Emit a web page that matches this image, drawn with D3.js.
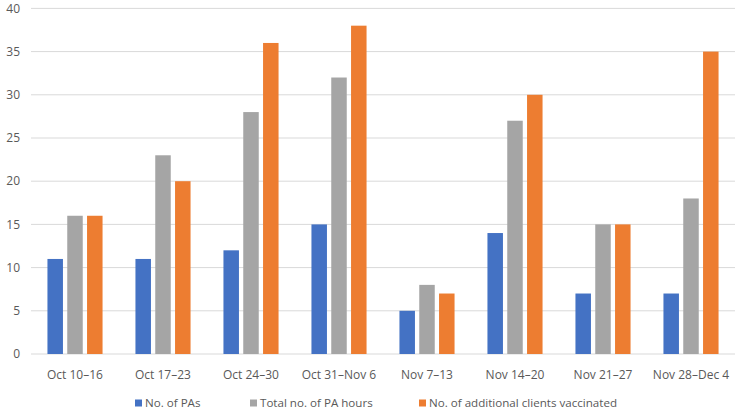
<!DOCTYPE html>
<html><head><meta charset="utf-8">
<script src="https://cdn.jsdelivr.net/npm/d3@7"></script>
<style>body{margin:0;background:#fff}text{font-family:"Open Sans",sans-serif}</style>
</head><body><svg id="c" width="740" height="414"></svg>
<script>
const categories = ["Oct 10–16","Oct 17–23","Oct 24–30","Oct 31–Nov 6","Nov 7–13","Nov 14–20","Nov 21–27","Nov 28–Dec 4"];
const seriesNames = ["No. of PAs","Total no. of PA hours","No. of additional clients vaccinated"];
const paCount = [11,11,12,15,5,14,7,7];
const paHours = [16,23,28,32,8,27,15,18];
const clientsVaccinated = [16,20,36,38,7,30,15,35];
const yTicks = [0,5,10,15,20,25,30,35,40];
const colors = ["#4472C4","#A5A5A5","#ED7D31"];
const series = [paCount, paHours, clientsVaccinated];

const svg = d3.select("#c");
const mLeft = 31, mRight = 735, mTop = 8.4, mBottom = 354;
const x = d3.scaleBand().domain(categories).range([mLeft,mRight]).paddingInner(0).paddingOuter(0);
const y = d3.scaleLinear().domain([0,40]).range([mBottom,mTop]);

// gridlines
svg.append("g").selectAll("line").data(yTicks).join("line")
  .attr("x1",mLeft).attr("x2",mRight)
  .attr("y1",d=>y(d)).attr("y2",d=>y(d))
  .attr("stroke","#D9D9D9").attr("stroke-width",1);

// y labels
svg.append("g").selectAll("text").data(yTicks).join("text")
  .attr("x",20).attr("y",d=>y(d)).attr("dy","0.35em")
  .attr("text-anchor","end").attr("font-size",12).attr("fill","#595959")
  .text(d=>d);

// bars
const barW = 15.5, gap = 4.3;
const groupW = 3*barW+2*gap;
const inner = d3.scaleBand().domain([0,1,2]).range([0,groupW]).paddingInner(gap/(barW+gap)).paddingOuter(0);
const g = svg.append("g");
series.forEach((vals,si)=>{
  g.append("g").selectAll("rect").data(vals).join("rect")
    .attr("x",(d,i)=>x(categories[i]) + (x.bandwidth()-groupW)/2 + inner(si))
    .attr("width",inner.bandwidth())
    .attr("y",d=>y(d)).attr("height",d=>y(0)-y(d))
    .attr("fill",colors[si]);
});

// x labels
svg.append("g").selectAll("text").data(categories).join("text")
  .attr("x",d=>x(d)+x.bandwidth()/2).attr("y",375).attr("dy","0.35em")
  .attr("text-anchor","middle").attr("font-size",12).attr("fill","#595959")
  .text(d=>d);

// legend
const legX = [135,250,419];
const leg = svg.append("g");
seriesNames.forEach((n,i)=>{
  leg.append("rect").attr("x",legX[i]).attr("y",399.5).attr("width",7).attr("height",7).attr("fill",colors[i]);
  leg.append("text").attr("x",legX[i]+10).attr("y",403).attr("dy","0.35em")
    .attr("font-size",11.6).attr("fill","#595959").text(n);
});
</script></body></html>
